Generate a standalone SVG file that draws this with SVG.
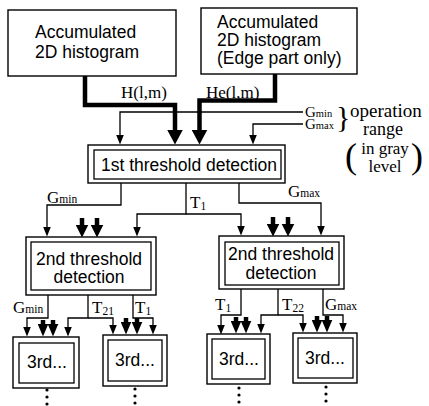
<svg xmlns="http://www.w3.org/2000/svg" width="429" height="406" viewBox="0 0 429 406">
<style>
.box{fill:#fff;stroke:#000;stroke-width:1.4}
.in{fill:none;stroke:#000;stroke-width:1.3}
.t{font-family:"Liberation Sans",Arial,sans-serif;font-size:17.5px;fill:#000}
.s{font-family:"Liberation Serif","Times New Roman",serif;font-size:17px;fill:#000}
.sub{font-size:11.5px}
.g{font-size:15px}
.gs{font-size:10.5px}
.thin{fill:none;stroke:#000;stroke-width:1.3}
.thick{fill:none;stroke:#000;stroke-width:4.5}
.dot{fill:#000}
</style>
<defs>
<marker id="a" viewBox="0 0 10 8" refX="0.5" refY="4" markerWidth="10" markerHeight="8" markerUnits="userSpaceOnUse" orient="auto"><path d="M0,0 L10,4 L0,8 z"/></marker>
<marker id="b1" viewBox="0 0 15 16" refX="0.5" refY="8" markerWidth="15" markerHeight="16" markerUnits="userSpaceOnUse" orient="auto"><path d="M0,0 L15,8 L0,16 z"/></marker>
<marker id="b2" viewBox="0 0 13 13" refX="0.5" refY="6.5" markerWidth="13" markerHeight="13" markerUnits="userSpaceOnUse" orient="auto"><path d="M0,0 L13,6.5 L0,13 z"/></marker>
<marker id="b3" viewBox="0 0 13 11" refX="0.5" refY="5.5" markerWidth="13" markerHeight="11" markerUnits="userSpaceOnUse" orient="auto"><path d="M0,0 L13,5.5 L0,11 z"/></marker>
</defs>

<g id="connectors">
<path class="thin" d="M303,112 H120 V135" marker-end="url(#a)"/>
<path class="thin" d="M303,124 H253 V135" marker-end="url(#a)"/>
<path class="thick" d="M85,76 V105 H175 V130" marker-end="url(#b1)"/>
<path class="thick" d="M275,74 V100.5 H199.5 V130" marker-end="url(#b1)"/>

<path class="thin" d="M121,183 V205 H47 V227" marker-end="url(#a)"/>
<path class="thin" d="M186,183 V214 H137 V227" marker-end="url(#a)"/>
<path class="thin" d="M186,214 H241 V226" marker-end="url(#a)"/>
<path class="thin" d="M239,183 V203 H321 V226" marker-end="url(#a)"/>
<path class="thick" d="M82,218 V225" marker-end="url(#b2)"/>
<path class="thick" d="M97,218 V225" marker-end="url(#b2)"/>
<path class="thick" d="M273,217 V224" marker-end="url(#b2)"/>
<path class="thick" d="M288,217 V224" marker-end="url(#b2)"/>

<path class="thin" d="M48,295 V318 H27 V327" marker-end="url(#a)"/>
<path class="thin" d="M88,295 V318 H68 V327" marker-end="url(#a)"/>
<path class="thin" d="M88,318 H113 V325" marker-end="url(#a)"/>
<path class="thin" d="M133,295 V318 H153 V325" marker-end="url(#a)"/>
<path class="thick" d="M43,320 V324" marker-end="url(#b3)"/>
<path class="thick" d="M53,320 V324" marker-end="url(#b3)"/>
<path class="thick" d="M126,318 V322" marker-end="url(#b3)"/>
<path class="thick" d="M137,318 V322" marker-end="url(#b3)"/>

<path class="thin" d="M241,289 V315 H221 V325" marker-end="url(#a)"/>
<path class="thin" d="M278,289 V315 H261 V324" marker-end="url(#a)"/>
<path class="thin" d="M278,315 H303 V323" marker-end="url(#a)"/>
<path class="thin" d="M323,289 V315 H343 V323" marker-end="url(#a)"/>
<path class="thick" d="M236,317 V321" marker-end="url(#b3)"/>
<path class="thick" d="M246,317 V321" marker-end="url(#b3)"/>
<path class="thick" d="M317,316 V320" marker-end="url(#b3)"/>
<path class="thick" d="M327,316 V320" marker-end="url(#b3)"/>

<text class="s" x="121" y="98">H(l,m)</text>
<text class="s" x="206" y="98">He(l,m)</text>
<text class="s g" x="305" y="117">G<tspan class="gs">min</tspan></text>
<text class="s g" x="305" y="129">G<tspan class="gs">max</tspan></text>
<text class="s" x="47" y="203">G<tspan class="sub">min</tspan></text>
<text class="s" x="190" y="208">T<tspan class="sub" dy="2">1</tspan></text>
<text class="s" x="288" y="197">G<tspan class="sub">max</tspan></text>
<text class="s" x="13" y="313">G<tspan class="sub">min</tspan></text>
<text class="s" x="92" y="313">T<tspan class="sub" dy="2">21</tspan></text>
<text class="s" x="135" y="313">T<tspan class="sub" dy="2">1</tspan></text>
<text class="s" x="215" y="310">T<tspan class="sub" dy="2">1</tspan></text>
<text class="s" x="282" y="310">T<tspan class="sub" dy="2">22</tspan></text>
<text class="s" x="325" y="310">G<tspan class="sub">max</tspan></text>
</g>

<g id="range-note">
<text class="s" x="336" y="127" style="font-size:30px">}</text>
<text class="s" x="350" y="117" style="font-size:19px">operation</text>
<text class="s" x="383" y="135" text-anchor="middle" style="font-size:18px">range</text>
<text class="s" x="345" y="168" style="font-size:36px">(</text>
<text class="s" x="385" y="154" text-anchor="middle" style="font-size:17px">in gray</text>
<text class="s" x="385" y="172" text-anchor="middle" style="font-size:17px">level</text>
<text class="s" x="411" y="168" style="font-size:36px">)</text>
</g>

<g id="n_hist">
<rect class="box" x="8" y="10" width="168" height="66"/>
<text class="t" x="35" y="38">Accumulated</text>
<text class="t" x="35" y="58">2D histogram</text>
</g>

<g id="n_edge">
<rect class="box" x="201" y="8" width="156" height="66"/>
<text class="t" x="217" y="28">Accumulated</text>
<text class="t" x="217" y="46">2D histogram</text>
<text class="t" x="217" y="64">(Edge part only)</text>
</g>

<g id="n_first">
<rect class="box" x="88" y="145" width="197" height="38"/>
<rect class="in" x="94" y="150" width="187" height="29"/>
<text class="t" x="189" y="171" text-anchor="middle">1st threshold detection</text>
</g>

<g id="n_second_a">
<rect class="box" x="26" y="237" width="130" height="58"/>
<rect class="in" x="31" y="242" width="120" height="48"/>
<text class="t" x="89" y="265" text-anchor="middle">2nd threshold</text>
<text class="t" x="89" y="283" text-anchor="middle">detection</text>
</g>

<g id="n_second_b">
<rect class="box" x="219" y="236" width="125" height="53"/>
<rect class="in" x="225" y="242" width="114" height="43"/>
<text class="t" x="281" y="260" text-anchor="middle">2nd threshold</text>
<text class="t" x="281" y="279" text-anchor="middle">detection</text>
</g>

<g id="n_third_a">
<rect class="box" x="13" y="337" width="66" height="51"/>
<rect class="in" x="19" y="343" width="55" height="40"/>
<text class="t" x="47" y="368" text-anchor="middle">3rd...</text>
<circle class="dot" cx="47" cy="390" r="1.6"/><circle class="dot" cx="47" cy="397" r="1.6"/><circle class="dot" cx="47" cy="404" r="1.6"/>
</g>

<g id="n_third_b">
<rect class="box" x="103" y="335" width="64" height="51"/>
<rect class="in" x="108" y="340" width="54" height="41"/>
<text class="t" x="135" y="366" text-anchor="middle">3rd...</text>
<circle class="dot" cx="135" cy="389" r="1.6"/><circle class="dot" cx="135" cy="396" r="1.6"/><circle class="dot" cx="135" cy="403" r="1.6"/>
</g>

<g id="n_third_c">
<rect class="box" x="207" y="334" width="63" height="50"/>
<rect class="in" x="212" y="339" width="53" height="40"/>
<text class="t" x="239" y="365" text-anchor="middle">3rd...</text>
<circle class="dot" cx="239" cy="388" r="1.6"/><circle class="dot" cx="239" cy="395" r="1.6"/><circle class="dot" cx="239" cy="402" r="1.6"/>
</g>

<g id="n_third_d">
<rect class="box" x="293" y="333" width="64" height="50"/>
<rect class="in" x="298" y="338" width="55" height="40"/>
<text class="t" x="325" y="364" text-anchor="middle">3rd...</text>
<circle class="dot" cx="326" cy="387" r="1.6"/><circle class="dot" cx="326" cy="394" r="1.6"/><circle class="dot" cx="326" cy="401" r="1.6"/>
</g>
</svg>
